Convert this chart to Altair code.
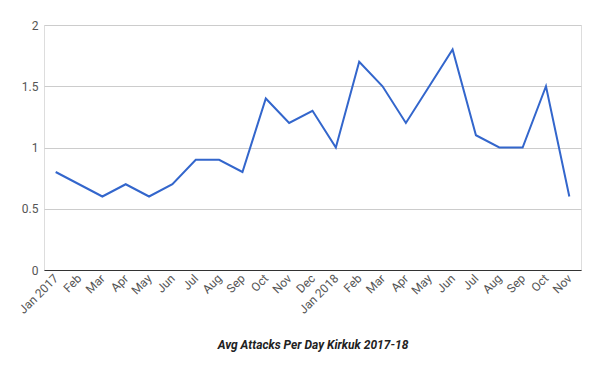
import altair as alt
import pandas as pd
import json

months = ["Jan 2017", "Feb", "Mar", "Apr", "May", "Jun", "Jul", "Aug", "Sep", "Oct", "Nov", "Dec",
          "Jan 2018", "Feb", "Mar", "Apr", "May", "Jun", "Jul", "Aug", "Sep", "Oct", "Nov"]
values = [0.8, 0.7, 0.6, 0.7, 0.6, 0.7, 0.9, 0.9, 0.8, 1.4, 1.2, 1.3,
          1.0, 1.7, 1.5, 1.2, 1.5, 1.8, 1.1, 1.0, 1.0, 1.5, 0.6]

df = pd.DataFrame({"idx": list(range(len(months))), "label": months, "value": values})
label_expr = json.dumps(months) + "[datum.value]"

FONT = "Roboto"

line = alt.Chart(df).mark_line(color="#3366CC", strokeWidth=2).encode(
    x=alt.X("idx:O",
            scale=alt.Scale(type="point", padding=0.5),
            axis=alt.Axis(labelExpr=label_expr, labelAngle=-45, labelAlign="right",
                          labelBaseline="middle", ticks=False, domain=True,
                          domainColor="#333333", domainWidth=1, labelColor="#555555",
                          labelFontSize=12, labelFont=FONT, labelPadding=6,
                          title="Avg Attacks Per Day Kirkuk 2017-18",
                          titleFont=FONT, titleFontSize=12, titleFontStyle="italic",
                          titleFontWeight="bold", titleColor="#222222", titlePadding=24)),
    y=alt.Y("value:Q",
            scale=alt.Scale(domain=[0, 2]),
            axis=alt.Axis(values=[0, 0.5, 1, 1.5, 2], format="~g", domain=False, ticks=False,
                          gridColor="#cccccc", labelColor="#555555", labelFontSize=12,
                          labelFont=FONT, labelPadding=6, title=None)),
)

chart = line.properties(
    width=537, height=245,
    padding={"top": 11, "left": 8, "right": 5, "bottom": 5},
).configure_view(stroke=None).configure(background="white")

chart.save("out.html", embed_options={"renderer": "svg", "actions": False})
